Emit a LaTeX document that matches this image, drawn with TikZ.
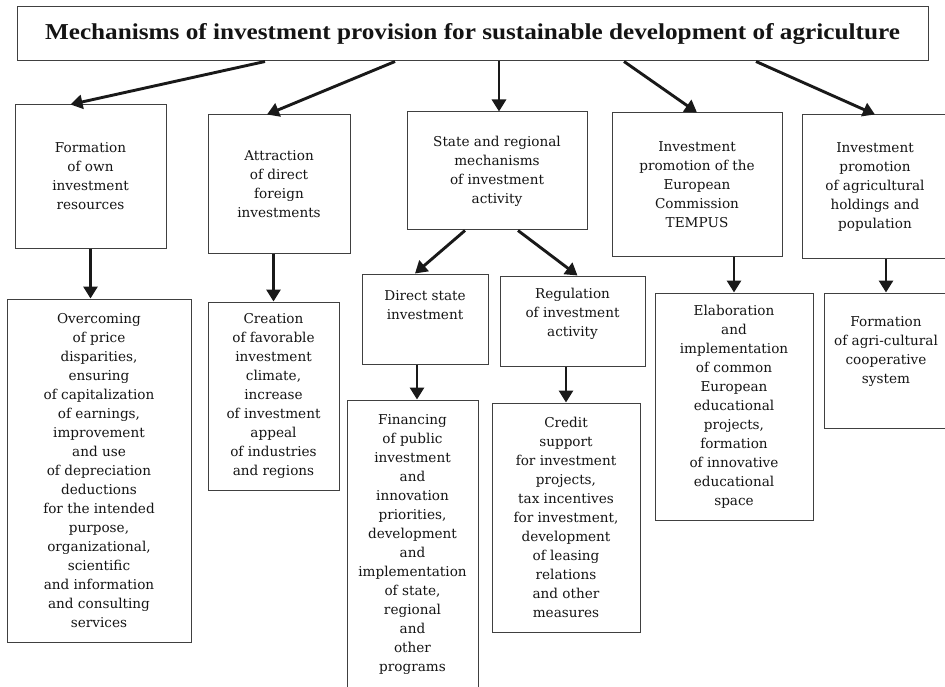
\documentclass[tikz,border=0pt]{standalone}
\usepackage{fontspec}
\usepackage{graphicx}
\setmainfont{DejaVu Serif}
\newfontfamily\titlefont{Liberation Serif}
\usetikzlibrary{arrows.meta}
\usetikzlibrary{positioning}

\tikzset{
    box/.style = {draw=black!75, line width=1pt, inner sep=0pt, align=center,
                  text=black!92, font=\fontsize{13.6}{19}\selectfont},
    txt/.style = {inner sep=0pt, align=center, text=black!92,
                  font=\fontsize{13.6}{19}\selectfont},
    arr/.style = {draw=black!90, line width=2.9pt, -{Triangle[length=12pt,width=14pt]}}
}

\begin{document}
\begin{tikzpicture}[x=1pt, y=-1pt]
        \useasboundingbox (0,0) rectangle (945,687);

        \node[box, minimum width=911, minimum height=54] (title) at (472.5,34)
            {\titlefont\bfseries\resizebox{855pt}{16pt}{Mechanisms of investment provision for sustainable development of agriculture}};

        \node[box, minimum width=151, minimum height=143] (form) at (90.5,176.5)
            {Formation\\of own\\investment\\resources};
        \node[box, minimum width=142, minimum height=138] (attr) at (279,184)
            {Attraction\\of direct\\foreign\\investments};
        \node[box, minimum width=180, minimum height=118] (state) at (497,171)
            {State and regional\\mechanisms\\of investment\\activity};
        \node[box, minimum width=170, minimum height=143] (tempus) at (697,184.5)
            {Investment\\promotion of the\\European\\Commission\\TEMPUS};
        \node[box, minimum width=146, minimum height=143] (agri) at (875,186.5)
            {Investment\\promotion\\of agricultural\\holdings and\\population};

        \node[box, minimum width=184, minimum height=343] (overc) at (99,470.5)
            {Overcoming\\of price\\disparities,\\ensuring\\of capitalization\\of earnings,\\improvement\\and use\\of depreciation\\deductions\\for the intended\\purpose,\\organizational,\\scientific\\and information\\and consulting\\services};
        \node[box, minimum width=131, minimum height=188] (creat) at (273.5,396)
            {Creation\\of favorable\\investment\\climate,\\increase\\of investment\\appeal\\of industries\\and regions};

        \node[box, minimum width=126, minimum height=90] (direct) at (425,319) {};
        \node[txt] (directtxt) at ([yshift=14pt]direct.center) {Direct state\\investment};
        \node[box, minimum width=145, minimum height=90] (regul) at (572.5,321) {};
        \node[txt] (regultxt) at ([yshift=7pt]regul.center) {Regulation\\of investment\\activity};

        \node[box, minimum width=131, minimum height=290] (financ) at (412.5,545)
            {Financing\\of public\\investment\\and\\innovation\\priorities,\\development\\and\\implementation\\of state,\\regional\\and\\other\\programs};
        \node[box, minimum width=148, minimum height=229] (credit) at (566,517.5)
            {Credit\\support\\for investment\\projects,\\tax incentives\\for investment,\\development\\of leasing\\relations\\and other\\measures};

        \node[box, minimum width=158, minimum height=227] (elab) at (734,406.5)
            {Elaboration\\and\\implementation\\of common\\European\\educational\\projects,\\formation\\of innovative\\educational\\space};
        \node[box, minimum width=124, minimum height=135] (coop) at (886,360.5) {};
        \node[txt] (cooptxt) at ([yshift=8.5pt]coop.center) {Formation\\of agri-cultural\\cooperative\\system};

        \draw[arr] ([xshift=-207.5pt]title.south) -- ([xshift=-20pt]form.north);
        \draw[arr] ([xshift=-77.5pt]title.south) -- ([xshift=-12pt]attr.north);
        \draw[arr] ([xshift=26.5pt]title.south) -- ([xshift=26.5pt]title.south |- state.north);
        \draw[arr] ([xshift=151.5pt]title.south) -- (tempus.north);
        \draw[arr] ([xshift=283.5pt]title.south) -- (agri.north);

        \draw[arr] (form.south) -- (form.south |- overc.north);
        \draw[arr] (attr.south -| creat.north) -- (creat.north);
        \draw[arr] ([xshift=-32pt]state.south) -- ([xshift=-10pt]direct.north);
        \draw[arr] ([xshift=21pt]state.south) -- ([xshift=5pt]regul.north);
        \draw[arr] ([xshift=-8pt]direct.south) -- ([xshift=-8pt]direct.south |- financ.north);
        \draw[arr] (regul.south -| credit.north) -- (credit.north);
        \draw[arr] (tempus.south -| elab.north) -- (elab.north);
        \draw[arr] (agri.south -| coop.north) -- (coop.north);
\end{tikzpicture}
\end{document}
